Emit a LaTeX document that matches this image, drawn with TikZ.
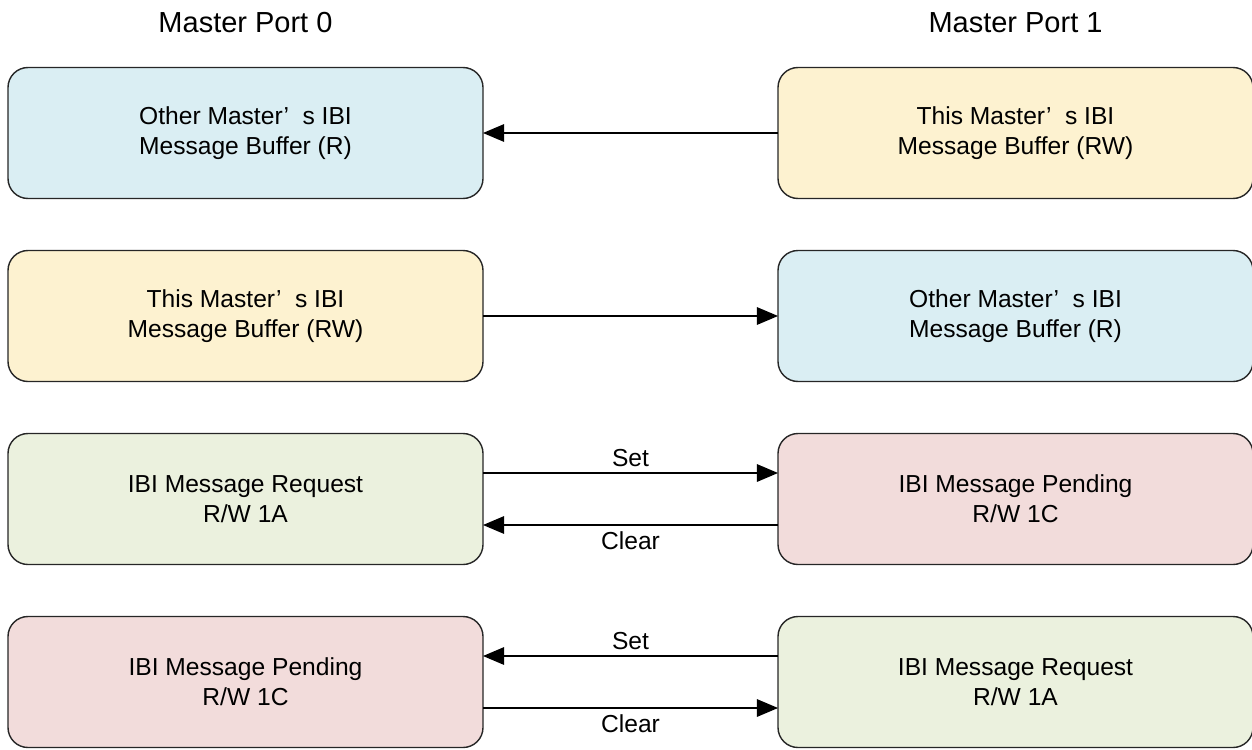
\documentclass[tikz,border=0pt]{standalone}
\usepackage{fontspec}
\setmainfont{Liberation Sans}
\usetikzlibrary{arrows.meta, positioning}
\definecolor{bufblue}{RGB}{218,238,243}
\definecolor{bufyellow}{RGB}{253,242,208}
\definecolor{reqgreen}{RGB}{235,241,222}
\definecolor{pendred}{RGB}{242,220,219}
\newcommand{\wideapos}{’\hspace{0.55em}}
\tikzset{
    box/.style={draw=black!85, line width=0.8pt, rounded corners=0.4cm, align=center, minimum width=9.5cm, minimum height=2.62cm, inner sep=0pt, outer sep=0pt, font=\fontsize{14}{17}\selectfont},
    port/.style={inner sep=0pt, font=\fontsize{16.5}{20}\selectfont},
    lbl/.style={font=\fontsize{14}{17}\selectfont},
    arrow/.style={-{Triangle[length=12pt, width=10pt]}, line width=0.7pt, black}
}

\begin{document}
\begin{tikzpicture}
        \useasboundingbox (0,0) rectangle (25.04,-14.98);
        % Master Port 0 column
        \node [box, fill=bufblue] (oth0) at (4.91,-2.66) {Other Master\wideapos s IBI\\Message Buffer (R)};
        \node [box, fill=bufyellow, below=1.04cm of oth0] (this0) {This Master\wideapos s IBI\\Message Buffer (RW)};
        \node [box, fill=reqgreen, below=1.04cm of this0] (req0) {IBI Message Request\\R/W 1A};
        \node [box, fill=pendred, below=1.04cm of req0] (pend0) {IBI Message Pending\\R/W 1C};
        % Master Port 1 column
        \node [box, fill=bufyellow, right=5.9cm of oth0] (this1) {This Master\wideapos s IBI\\Message Buffer (RW)};
        \node [box, fill=bufblue, right=5.9cm of this0] (oth1) {Other Master\wideapos s IBI\\Message Buffer (R)};
        \node [box, fill=pendred, right=5.9cm of req0] (pend1) {IBI Message Pending\\R/W 1C};
        \node [box, fill=reqgreen, right=5.9cm of pend0] (req1) {IBI Message Request\\R/W 1A};
        % headings
        \node [port, above=0.68cm of oth0] (port0) {Master Port 0};
        \node [port, above=0.68cm of this1] (port1) {Master Port 1};
        % connectors
        \draw [arrow] (this1) -- (oth0);
        \draw [arrow] (this0) -- (oth1);
        \draw [arrow] ([yshift=0.52cm]req0.east) -- node [lbl, above] (set0) {Set} ([yshift=0.52cm]pend1.west);
        \draw [arrow] ([yshift=-0.52cm]pend1.west) -- node [lbl, below] (clr0) {Clear} ([yshift=-0.52cm]req0.east);
        \draw [arrow] ([yshift=0.52cm]req1.west) -- node [lbl, above] (set1) {Set} ([yshift=0.52cm]pend0.east);
        \draw [arrow] ([yshift=-0.52cm]pend0.east) -- node [lbl, below] (clr1) {Clear} ([yshift=-0.52cm]req1.west);
    \end{tikzpicture}
\end{document}
